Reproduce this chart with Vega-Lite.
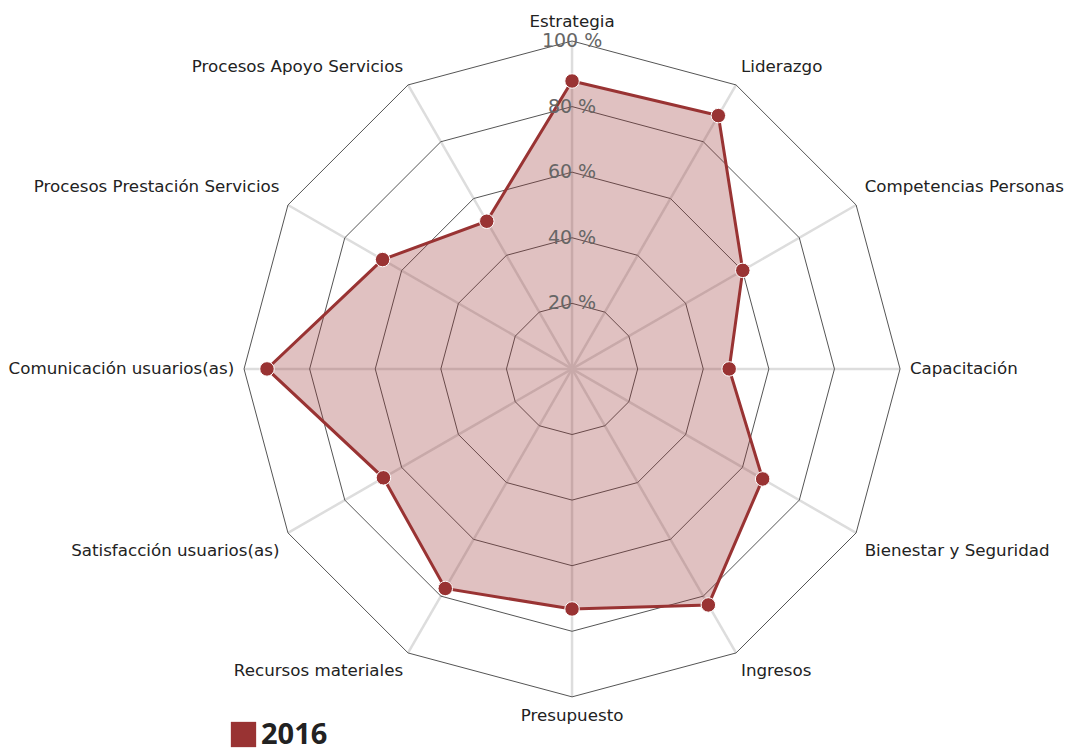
{
  "$schema": "https://vega.github.io/schema/vega-lite/v6.json",
  "width": 1068,
  "height": 750,
  "autosize": "none",
  "padding": 0,
  "background": "white",
  "config": {"view": {"stroke": null}},
  "datasets": {
    "ejes": [
      {"eje": "Estrategia", "valor": 87.8, "anio": "2016"},
      {"eje": "Liderazgo", "valor": 89.2, "anio": "2016"},
      {"eje": "Competencias Personas", "valor": 60.1, "anio": "2016"},
      {"eje": "Capacitación", "valor": 47.9, "anio": "2016"},
      {"eje": "Bienestar y Seguridad", "valor": 67.1, "anio": "2016"},
      {"eje": "Ingresos", "valor": 83.1, "anio": "2016"},
      {"eje": "Presupuesto", "valor": 73.2, "anio": "2016"},
      {"eje": "Recursos materiales", "valor": 77.3, "anio": "2016"},
      {"eje": "Satisfacción usuarios(as)", "valor": 66.4, "anio": "2016"},
      {"eje": "Comunicación usuarios(as)", "valor": 93.0, "anio": "2016"},
      {"eje": "Procesos Prestación Servicios", "valor": 66.7, "anio": "2016"},
      {"eje": "Procesos Apoyo Servicios", "valor": 52.0, "anio": "2016"}
    ],
    "niveles": [
      {"nivel": 20, "etiqueta": "20 %"},
      {"nivel": 40, "etiqueta": "40 %"},
      {"nivel": 60, "etiqueta": "60 %"},
      {"nivel": 80, "etiqueta": "80 %"},
      {"nivel": 100, "etiqueta": "100 %"}
    ]
  },
  "layer": [
    {
      "data": {"name": "ejes"},
      "transform": [
        {"window": [{"op": "row_number", "as": "k"}]},
        {"calculate": "(datum.k - 1) * PI / 6", "as": "ang"},
        {"calculate": "100 * sin(datum.ang)", "as": "x"},
        {"calculate": "100 * cos(datum.ang)", "as": "y"},
        {"calculate": "0", "as": "x0"},
        {"calculate": "0", "as": "y0"}
      ],
      "mark": {"type": "rule", "color": "#dddddd", "strokeWidth": 2.5},
      "encoding": {
        "x": {"field": "x0", "type": "quantitative", "scale": {"domain": [-174.4, 151.2], "nice": false, "zero": false}, "axis": null},
        "y": {"field": "y0", "type": "quantitative", "scale": {"domain": [-116.2, 112.5], "nice": false, "zero": false}, "axis": null},
        "x2": {"field": "x"},
        "y2": {"field": "y"}
      }
    },
    {
      "data": {"name": "ejes"},
      "transform": [
        {"window": [{"op": "row_number", "as": "k"}]},
        {"calculate": "(datum.k - 1) * PI / 6", "as": "ang"},
        {"calculate": "[20, 40, 60, 80, 100]", "as": "niv"},
        {"flatten": ["niv"]},
        {"calculate": "datum.niv * sin(datum.ang)", "as": "x"},
        {"calculate": "datum.niv * cos(datum.ang)", "as": "y"}
      ],
      "mark": {"type": "line", "interpolate": "linear-closed", "color": "#555555", "strokeWidth": 1},
      "encoding": {
        "x": {"field": "x", "type": "quantitative"},
        "y": {"field": "y", "type": "quantitative"},
        "detail": {"field": "niv"},
        "order": {"field": "k"}
      }
    },
    {
      "data": {"name": "ejes"},
      "transform": [
        {"window": [{"op": "row_number", "as": "k"}]},
        {"calculate": "(datum.k - 1) * PI / 6", "as": "ang"},
        {"calculate": "datum.valor * sin(datum.ang)", "as": "x"},
        {"calculate": "datum.valor * cos(datum.ang)", "as": "y"}
      ],
      "mark": {"type": "line", "interpolate": "linear-closed", "color": "#993333", "strokeWidth": 3, "fill": "#993333", "fillOpacity": 0.3},
      "encoding": {
        "x": {"field": "x", "type": "quantitative"},
        "y": {"field": "y", "type": "quantitative"},
        "order": {"field": "k"}
      }
    },
    {
      "data": {"name": "ejes"},
      "transform": [
        {"window": [{"op": "row_number", "as": "k"}]},
        {"calculate": "(datum.k - 1) * PI / 6", "as": "ang"},
        {"calculate": "datum.valor * sin(datum.ang)", "as": "x"},
        {"calculate": "datum.valor * cos(datum.ang)", "as": "y"}
      ],
      "mark": {"type": "point", "filled": true, "opacity": 1, "size": 210, "stroke": "white", "strokeWidth": 1},
      "encoding": {
        "x": {"field": "x", "type": "quantitative"},
        "y": {"field": "y", "type": "quantitative"},
        "color": {
          "field": "anio", "type": "nominal",
          "scale": {"domain": ["2016"], "range": ["#993333"]},
          "legend": {
            "orient": "none", "legendX": 229, "legendY": 720, "title": null,
            "symbolType": "square", "symbolSize": 640, "symbolStrokeWidth": 0, "symbolOpacity": 1,
            "labelFont": "Open Sans", "labelFontSize": 29, "labelFontWeight": "bold", "labelColor": "#222222",
            "labelOffset": 3, "padding": 0
          }
        }
      }
    },
    {
      "data": {"name": "niveles"},
      "transform": [{"calculate": "0", "as": "x"}],
      "mark": {"type": "text", "font": "DejaVu Sans", "fontSize": 19, "color": "#666666", "align": "center", "baseline": "middle"},
      "encoding": {
        "x": {"field": "x", "type": "quantitative"},
        "y": {"field": "nivel", "type": "quantitative"},
        "text": {"field": "etiqueta"}
      }
    },
    {
      "data": {"name": "ejes"},
      "transform": [
        {"window": [{"op": "row_number", "as": "k"}]},
        {"calculate": "(datum.k - 1) * PI / 6", "as": "ang"},
        {"calculate": "103 * sin(datum.ang)", "as": "x"},
        {"calculate": "100 * cos(datum.ang) + (abs(cos(datum.ang)) < 0.01 ? 0 : (cos(datum.ang) > 0 ? 5.5 : -5.5))", "as": "y"},
        {"filter": "datum.k >= 2 && datum.k <= 6"}
      ],
      "mark": {"type": "text", "font": "DejaVu Sans", "fontSize": 16.7, "color": "#222222", "align": "left", "baseline": "middle"},
      "encoding": {
        "x": {"field": "x", "type": "quantitative"},
        "y": {"field": "y", "type": "quantitative"},
        "text": {"field": "eje"}
      }
    },
    {
      "data": {"name": "ejes"},
      "transform": [
        {"window": [{"op": "row_number", "as": "k"}]},
        {"calculate": "(datum.k - 1) * PI / 6", "as": "ang"},
        {"calculate": "103 * sin(datum.ang)", "as": "x"},
        {"calculate": "100 * cos(datum.ang) + (abs(cos(datum.ang)) < 0.01 ? 0 : (cos(datum.ang) > 0 ? 5.5 : -5.5))", "as": "y"},
        {"filter": "datum.k >= 8"}
      ],
      "mark": {"type": "text", "font": "DejaVu Sans", "fontSize": 16.7, "color": "#222222", "align": "right", "baseline": "middle"},
      "encoding": {
        "x": {"field": "x", "type": "quantitative"},
        "y": {"field": "y", "type": "quantitative"},
        "text": {"field": "eje"}
      }
    },
    {
      "data": {"name": "ejes"},
      "transform": [
        {"window": [{"op": "row_number", "as": "k"}]},
        {"calculate": "(datum.k - 1) * PI / 6", "as": "ang"},
        {"calculate": "0", "as": "x"},
        {"calculate": "100 * cos(datum.ang) + (cos(datum.ang) > 0 ? 5.8 : -5.8)", "as": "y"},
        {"filter": "datum.k == 1 || datum.k == 7"}
      ],
      "mark": {"type": "text", "font": "DejaVu Sans", "fontSize": 16.7, "color": "#222222", "align": "center", "baseline": "middle"},
      "encoding": {
        "x": {"field": "x", "type": "quantitative"},
        "y": {"field": "y", "type": "quantitative"},
        "text": {"field": "eje"}
      }
    }
  ]
}
